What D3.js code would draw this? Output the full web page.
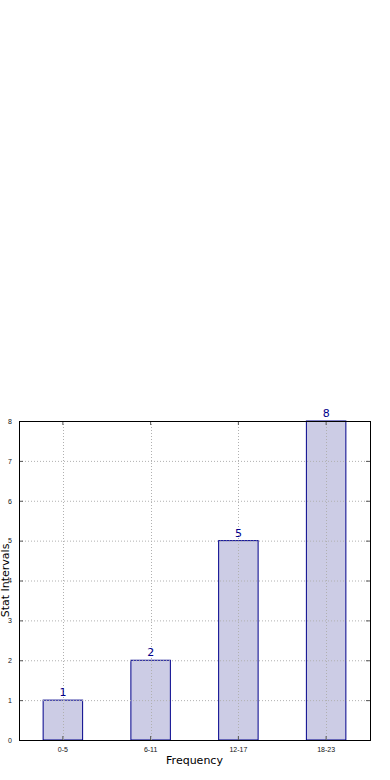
<!DOCTYPE html>
<html>
<head>
<meta charset="utf-8">
<script src="https://cdn.jsdelivr.net/npm/d3@7"></script>
<style>
  body { margin: 0; background: #fff; }
  svg { display: block; font-family: "DejaVu Sans", sans-serif; }
</style>
</head>
<body>
<div id="chart"></div>
<script>
// chart data
const categories = ["0-5", "6-11", "12-17", "18-23"];
const counts = [1, 2, 5, 8];
const yTicks = [0, 1, 2, 3, 4, 5, 6, 7, 8];

const width = 390, height = 780;
const margin = { top: 421, right: 20, bottom: 40, left: 19 };

const svg = d3.select("#chart").append("svg")
  .attr("width", width)
  .attr("height", height);

const x = d3.scaleBand()
  .domain(categories)
  .range([margin.left, width - margin.right])
  .paddingInner(0)
  .paddingOuter(0);

const y = d3.scaleLinear()
  .domain([0, 8])
  .range([height - margin.bottom, margin.top]);

const barW = x.bandwidth() * 0.45;

// grid lines
const grid = svg.append("g").attr("class", "grid");
grid.selectAll(".hgrid")
  .data(yTicks)
  .enter()
  .append("line")
  .attr("x1", margin.left)
  .attr("x2", width - margin.right)
  .attr("y1", (d) => y(d) + 0.5)
  .attr("y2", (d) => y(d) + 0.5)
  .style("stroke", "#b0b0b0")
  .style("stroke-width", 1)
  .style("stroke-dasharray", "1,2");

// bars
svg.selectAll(".bar")
  .data(counts)
  .enter()
  .append("rect")
  .attr("class", "bar")
  .attr("x", (d, i) => x(categories[i]) + x.bandwidth() / 2 - barW / 2)
  .attr("y", (d) => y(d))
  .attr("width", barW)
  .attr("height", (d) => y(0) - y(d))
  .style("fill", "#ccccE5")
  .style("stroke", "#00008b")
  .style("stroke-width", 1);

// vertical grid lines drawn over the bars
grid.raise();
grid.selectAll(".vgrid")
  .data(categories)
  .enter()
  .append("line")
  .attr("x1", (d) => Math.round(x(d) + x.bandwidth() / 2) + 0.5)
  .attr("x2", (d) => Math.round(x(d) + x.bandwidth() / 2) + 0.5)
  .attr("y1", margin.top)
  .attr("y2", height - margin.bottom)
  .style("stroke", "#b0b0b0")
  .style("stroke-width", 1)
  .style("stroke-dasharray", "1,2");

// value labels
svg.selectAll(".val")
  .data(counts)
  .enter()
  .append("text")
  .attr("x", (d, i) => x(categories[i]) + x.bandwidth() / 2)
  .attr("y", (d) => y(d) - 4)
  .attr("text-anchor", "middle")
  .style("fill", "#00008b")
  .style("font-size", "11px")
  .text((d) => d);

// axes
const xAxis = d3.axisBottom(x).tickSizeInner(-4).tickSizeOuter(0).tickPadding(7);
const yAxis = d3.axisLeft(y).tickValues(yTicks).tickSizeInner(-4).tickSizeOuter(0).tickPadding(7);
// mirrored ticks on top and right, no labels
const xTop = d3.axisTop(x).tickSizeInner(-4).tickSizeOuter(0).tickFormat("");
const yRight = d3.axisRight(y).tickValues(yTicks).tickSizeInner(-4).tickSizeOuter(0).tickFormat("");

const gx = svg.append("g")
  .attr("transform", `translate(0,${height - margin.bottom})`)
  .call(xAxis);
const gy = svg.append("g")
  .attr("transform", `translate(${margin.left},0)`)
  .call(yAxis);
const gxt = svg.append("g")
  .attr("transform", `translate(0,${margin.top})`)
  .call(xTop);
const gyr = svg.append("g")
  .attr("transform", `translate(${width - margin.right},0)`)
  .call(yRight);

[gx, gy, gxt, gyr].forEach((g) => {
  g.select(".domain").remove();
  g.selectAll(".tick line").style("stroke", "#555");
  g.selectAll(".tick text").style("font-size", "7px").style("fill", "#111");
});

// frame
svg.append("rect")
  .attr("x", margin.left + 0.5)
  .attr("y", margin.top + 0.5)
  .attr("width", width - margin.right - margin.left)
  .attr("height", height - margin.bottom - margin.top)
  .style("fill", "none")
  .style("stroke", "#000")
  .style("stroke-width", 1);

// axis labels
svg.append("text")
  .attr("x", (margin.left + width - margin.right) / 2)
  .attr("y", 764)
  .attr("text-anchor", "middle")
  .style("font-size", "11px")
  .text("Frequency");

svg.append("text")
  .attr("transform", `translate(9,${(margin.top + height - margin.bottom) / 2}) rotate(-90)`)
  .attr("text-anchor", "middle")
  .style("font-size", "11px")
  .text("Stat Intervals");
</script>
</body>
</html>
